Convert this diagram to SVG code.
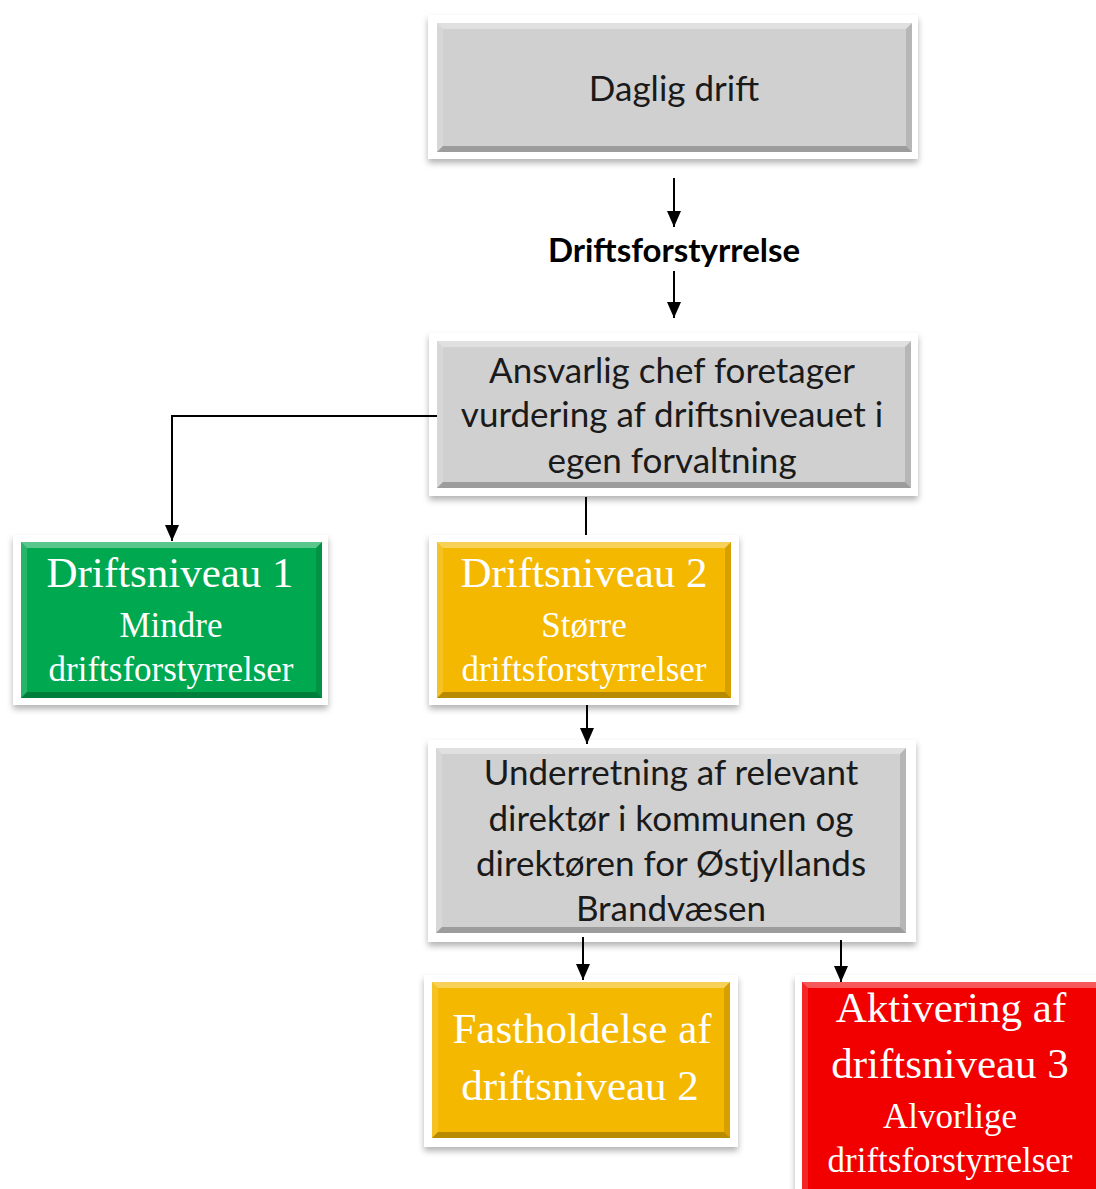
<svg xmlns="http://www.w3.org/2000/svg" width="1096" height="1189" viewBox="0 0 1096 1189">
<defs>
<filter id="sh" x="-10%" y="-10%" width="120%" height="130%">
<feDropShadow dx="0" dy="4" stdDeviation="3" flood-color="#000" flood-opacity="0.3"/>
</filter>
<marker id="ah" markerUnits="userSpaceOnUse" markerWidth="16" markerHeight="14" viewBox="0 0 16 14" refX="16" refY="7" orient="auto">
<path d="M0,0 L16,7 L0,14 Z" fill="#000"/>
</marker>
</defs>
<style>
.frame{fill:#fff;filter:url(#sh)}
.gray{fill:#D0D0D0}
.green{fill:#00A84F}
.orange{fill:#F4B800}
.red{fill:#F20000}
.hl{fill:#fff;fill-opacity:0.35}
.hl2{fill:#fff;fill-opacity:0.15}
.dk{fill:#000;fill-opacity:0.12}
.dk2{fill:#000;fill-opacity:0.25}
.gt{font-family:Lato,"Liberation Sans",sans-serif;font-size:35px;fill:#1a1a1a;text-anchor:middle}
.lbl{font-family:Lato,"Liberation Sans",sans-serif;font-size:33px;font-weight:bold;fill:#000;text-anchor:middle}
.st{font-family:"Liberation Serif",serif;fill:#fff;text-anchor:middle}
.big{font-size:43px}
.sm{font-size:35px}
.conn{stroke:#000;stroke-width:2;fill:none}
</style>

<g id="daglig-drift">
<rect class="frame" x="428" y="15" width="490" height="144"/>
<rect class="gray" x="437" y="23" width="475" height="129"/>
<polygon class="hl" points="437,23 912,23 906,29 443,29"/>
<polygon class="hl2" points="437,23 443,29 443,146 437,152"/>
<polygon class="dk" points="912,23 912,152 906,146 906,29"/>
<polygon class="dk2" points="437,152 912,152 906,146 443,146"/>
<text class="gt" x="674" y="101">Daglig drift</text>
</g>

<g id="driftsforstyrrelse">
<text class="lbl" x="674" y="262">Driftsforstyrrelse</text>
</g>

<g id="ansvarlig-chef">
<rect class="frame" x="429" y="333" width="489" height="163"/>
<rect class="gray" x="437" y="341" width="474" height="147"/>
<polygon class="hl" points="437,341 911,341 905,347 443,347"/>
<polygon class="hl2" points="437,341 443,347 443,482 437,488"/>
<polygon class="dk" points="911,341 911,488 905,482 905,347"/>
<polygon class="dk2" points="437,488 911,488 905,482 443,482"/>
<text class="gt" x="672" y="383">Ansvarlig chef foretager</text>
<text class="gt" x="672" y="427">vurdering af driftsniveauet i</text>
<text class="gt" x="672" y="473">egen forvaltning</text>
</g>

<g id="driftsniveau-1">
<rect class="frame" x="13" y="535" width="315" height="170"/>
<rect class="green" x="21" y="542" width="301" height="156"/>
<polygon class="hl" points="21,542 322,542 316,548 27,548"/>
<polygon class="hl2" points="21,542 27,548 27,692 21,698"/>
<polygon class="dk" points="322,542 322,698 316,692 316,548"/>
<polygon class="dk2" points="21,698 322,698 316,692 27,692"/>
<text class="st big" x="170" y="587">Driftsniveau 1</text>
<text class="st sm" x="171" y="637">Mindre</text>
<text class="st sm" x="171" y="681">driftsforstyrrelser</text>
</g>

<g id="driftsniveau-2">
<rect class="frame" x="429" y="535" width="310" height="170"/>
<rect class="orange" x="437" y="542" width="294" height="156"/>
<polygon class="hl" points="437,542 731,542 725,548 443,548"/>
<polygon class="hl2" points="437,542 443,548 443,692 437,698"/>
<polygon class="dk" points="731,542 731,698 725,692 725,548"/>
<polygon class="dk2" points="437,698 731,698 725,692 443,692"/>
<text class="st big" x="584" y="587">Driftsniveau 2</text>
<text class="st sm" x="584" y="637">Større</text>
<text class="st sm" x="584" y="681">driftsforstyrrelser</text>
</g>

<g id="underretning">
<rect class="frame" x="428" y="740" width="488" height="202"/>
<rect class="gray" x="436" y="748" width="470" height="185"/>
<polygon class="hl" points="436,748 906,748 900,754 442,754"/>
<polygon class="hl2" points="436,748 442,754 442,927 436,933"/>
<polygon class="dk" points="906,748 906,933 900,927 900,754"/>
<polygon class="dk2" points="436,933 906,933 900,927 442,927"/>
<text class="gt" x="671" y="785">Underretning af relevant</text>
<text class="gt" x="671" y="831">direktør i kommunen og</text>
<text class="gt" x="671" y="876">direktøren for Østjyllands</text>
<text class="gt" x="671" y="921">Brandvæsen</text>
</g>

<g id="fastholdelse">
<rect class="frame" x="424" y="975" width="314" height="172"/>
<rect class="orange" x="432" y="982" width="298" height="156"/>
<polygon class="hl" points="432,982 730,982 724,988 438,988"/>
<polygon class="hl2" points="432,982 438,988 438,1132 432,1138"/>
<polygon class="dk" points="730,982 730,1138 724,1132 724,988"/>
<polygon class="dk2" points="432,1138 730,1138 724,1132 438,1132"/>
<text class="st big" x="582" y="1043">Fastholdelse af</text>
<text class="st big" x="580" y="1100">driftsniveau 2</text>
</g>

<g id="driftsniveau-3">
<rect class="frame" x="795" y="975" width="310" height="225"/>
<rect class="red" x="802" y="982" width="300" height="215"/>
<polygon class="hl" points="802,982 1102,982 1096,988 808,988"/>
<polygon class="hl2" points="802,982 808,988 808,1189 802,1189"/>
<text class="st big" x="951" y="1022">Aktivering af</text>
<text class="st big" x="950" y="1078">driftsniveau 3</text>
<text class="st sm" x="950" y="1128">Alvorlige</text>
<text class="st sm" x="950" y="1172">driftsforstyrrelser</text>
</g>

<g id="connectors">
<line class="conn" x1="674" y1="178" x2="674" y2="227" marker-end="url(#ah)"/>
<line class="conn" x1="674" y1="271" x2="674" y2="318" marker-end="url(#ah)"/>
<polyline class="conn" points="437,416 172,416 172,541" marker-end="url(#ah)"/>
<line class="conn" x1="586" y1="497" x2="586" y2="535"/>
<line class="conn" x1="587" y1="705" x2="587" y2="744" marker-end="url(#ah)"/>
<line class="conn" x1="583" y1="937" x2="583" y2="980" marker-end="url(#ah)"/>
<line class="conn" x1="841" y1="940" x2="841" y2="982" marker-end="url(#ah)"/>
</g>
</svg>
